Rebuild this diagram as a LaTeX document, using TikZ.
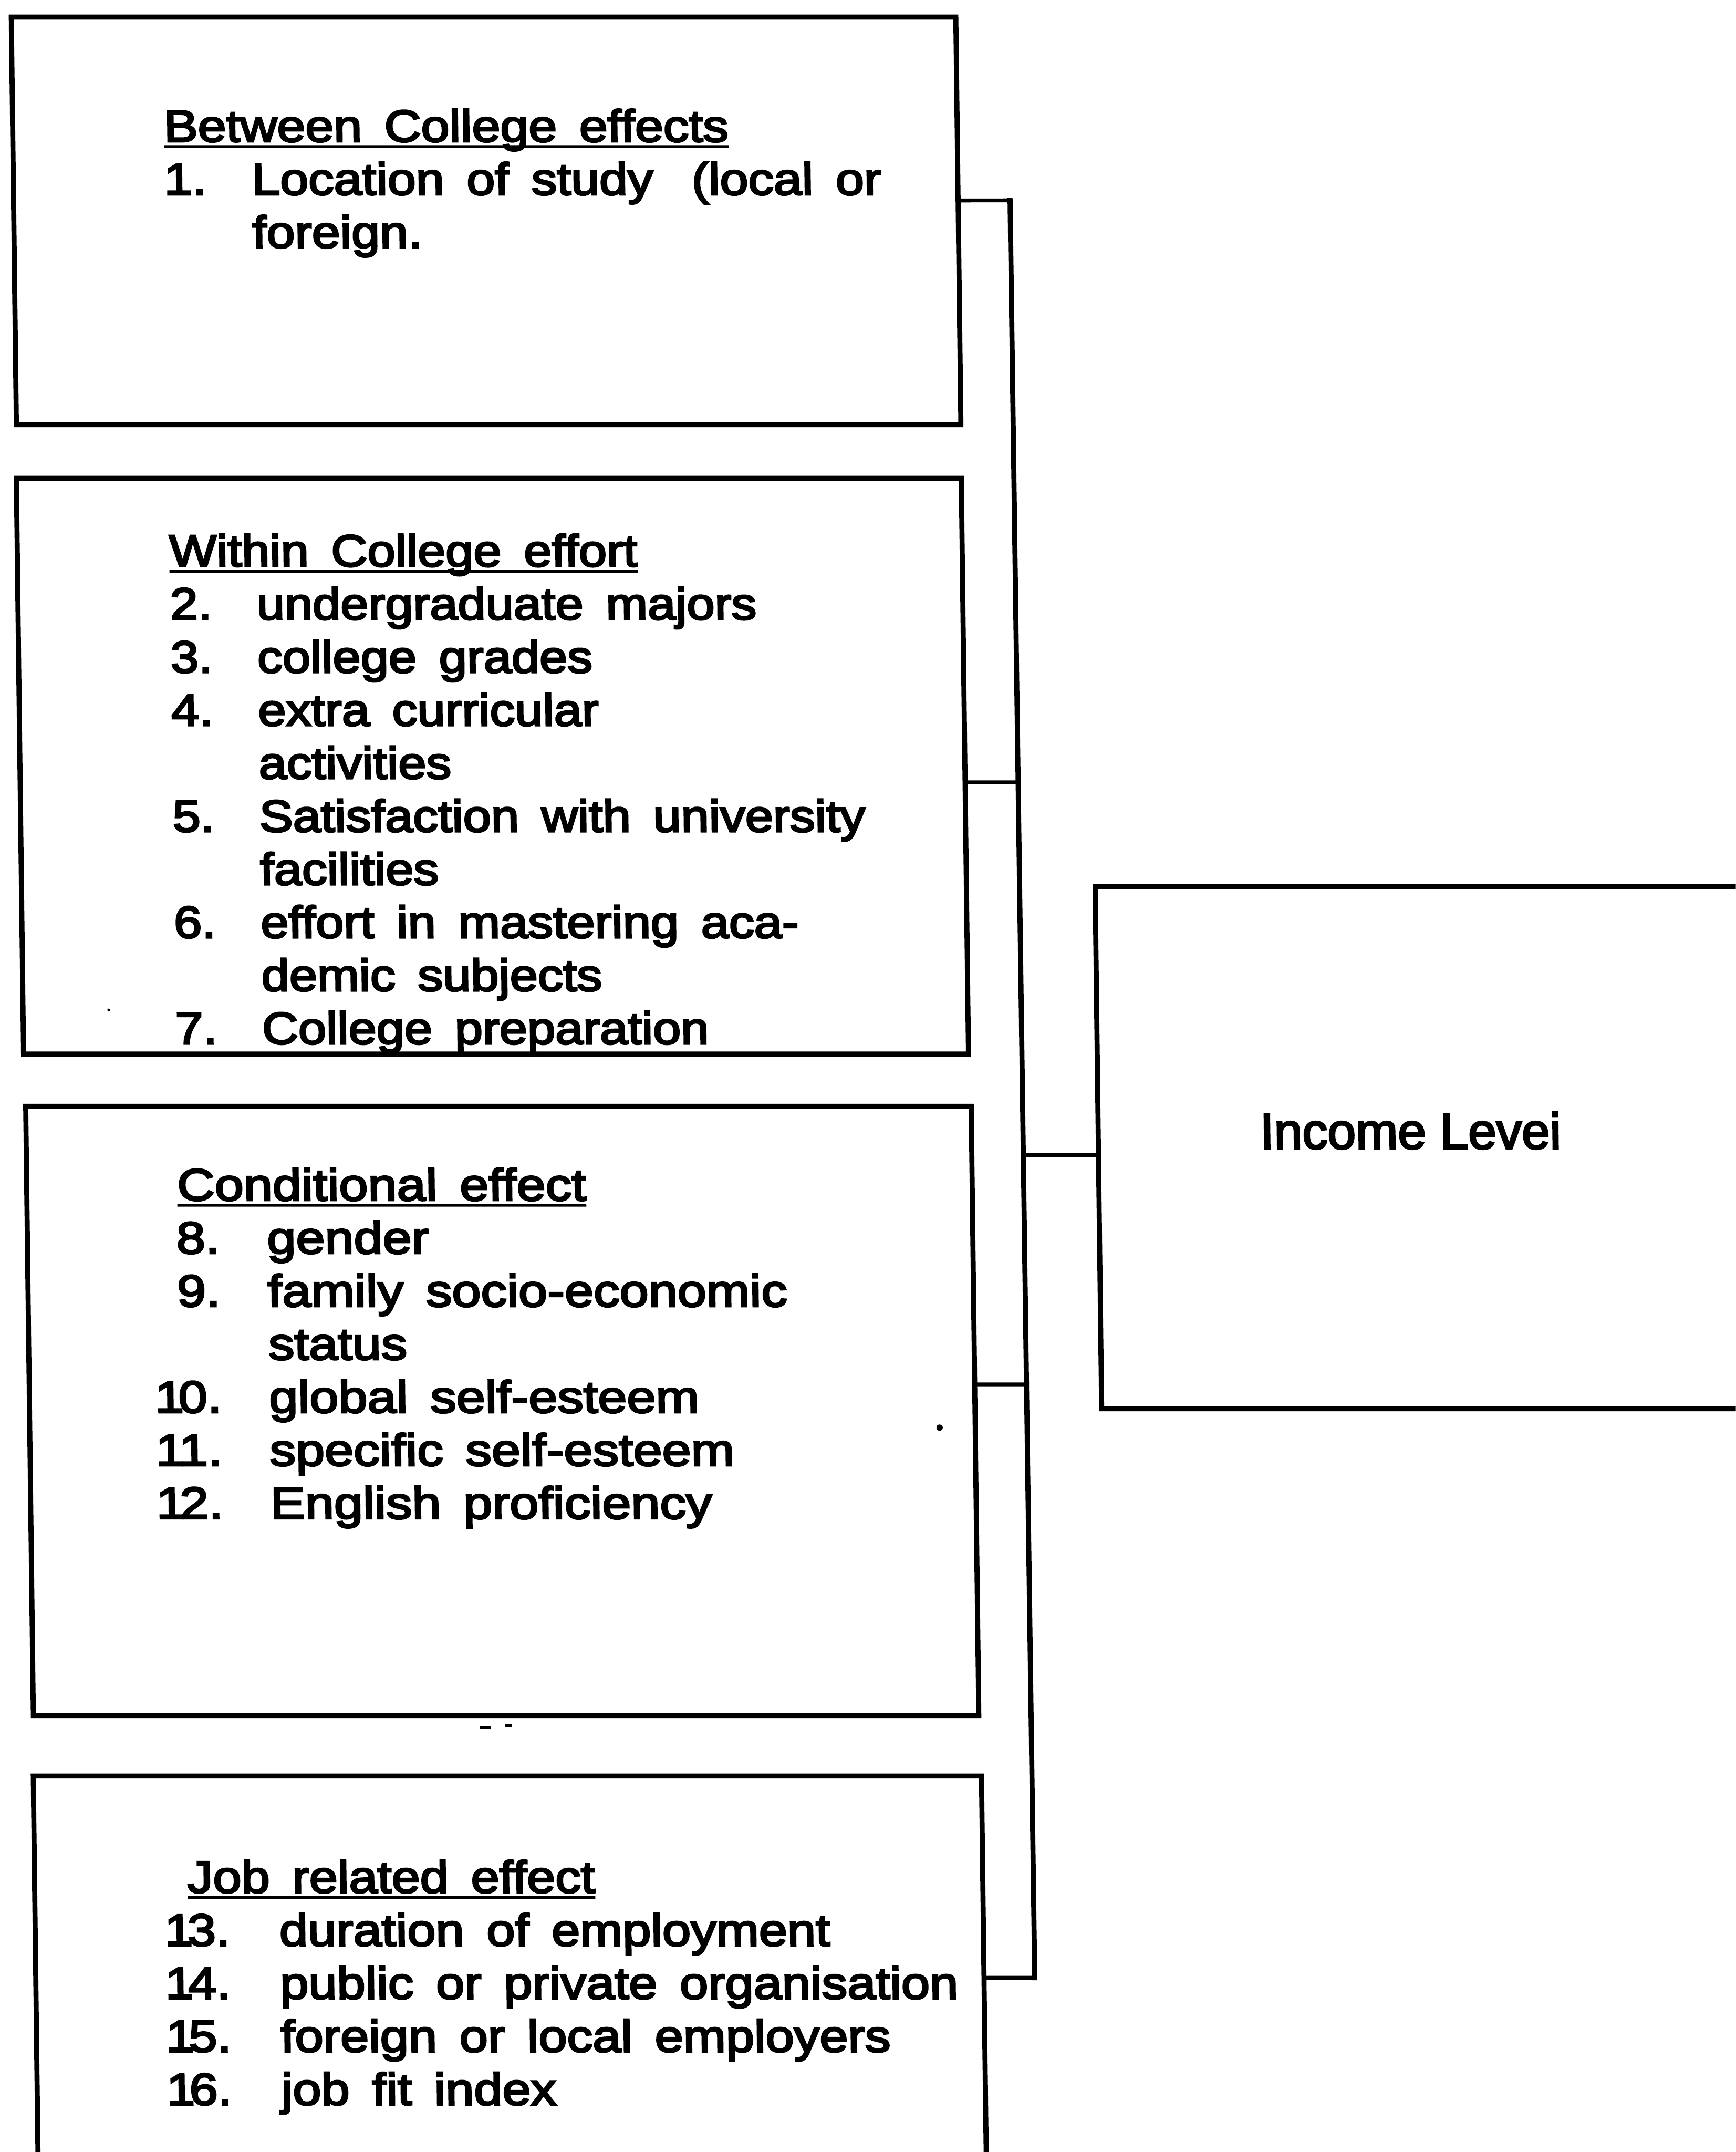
\documentclass[tikz,border=0pt]{standalone}
\usepackage{fontspec}
\setmainfont{Liberation Sans}
\newfontfamily\listfontA[FakeStretch=1.135,FakeBold=4]{Liberation Sans}
\newfontfamily\listfontB[FakeStretch=1.12,FakeBold=4]{Liberation Sans}
\newfontfamily\listfontC[FakeStretch=1.16,FakeBold=4]{Liberation Sans}
\newfontfamily\listfontD[FakeStretch=1.14,FakeBold=4]{Liberation Sans}
\newfontfamily\outfont[FakeBold=3.5]{Liberation Sans}
\usetikzlibrary{calc}

% list typography
\newcommand\listsize{\fontsize{18.6}{22}\selectfont\spaceskip=9.3pt\relax}
\newlength\numw \setlength\numw{0.612cm}
\newlength\gapw \setlength\gapw{0.67cm}
\newcommand\hdr[1]{\setbox0\hbox{#1}\rlap{\rule[-2.6pt]{\wd0}{1.1pt}}\box0}
\newcommand\itm[2]{\makebox[\numw][r]{#1}\hspace{\gapw}#2}
\newcommand\cnt[1]{\hspace{\numw}\hspace{\gapw}#1}
% two-digit numbers: the leading 1 sits close to its neighbour
\newcommand\tnum[1]{1\kern-2.3pt#1.}

\tikzset{
  effbox/.style={draw, line width=2.1pt, rectangle, inner sep=0pt, outer sep=0pt, anchor=center},
  busline/.style={line width=2.1pt, line cap=rect},
  tickline/.style={line width=1.6pt},
  listtext/.style={anchor=base west, inner sep=0pt, outer sep=0pt},
  outtext/.style={anchor=base west, inner sep=0pt, outer sep=0pt, font=\outfont\fontsize{21}{24}\selectfont},
}

\begin{document}
\begin{tikzpicture}[x=0.02cm, y=-0.02cm]
\useasboundingbox (0,0) rectangle (1265,1568);
\clip (0,0) rectangle (1265,1568);

\begin{scope}[xslant=-0.0125, transform shape]
  % factor boxes
  \node[effbox, minimum width=13.77cm, minimum height=5.942cm] (b1) at (352.25,160.95) {};
  \node[effbox, minimum width=13.776cm, minimum height=8.39cm] (b2) at (351.9,558.25) {};
  \node[effbox, minimum width=13.784cm, minimum height=8.88cm] (b3) at (353.2,1028) {};
  \node[effbox, minimum width=13.824cm, minimum height=6.12cm] (b4) at (353.6,1447) {};
  % outcome box
  \node[effbox, minimum width=10.2cm, minimum height=7.608cm] (inc) at (1045,836.3) {};

  % box contents
  \node[listtext, font=\listfontA\listsize] (t1) at (118.3,103.2) {\setlength\gapw{0.66cm}%
    \begin{tabular}[t]{@{}l@{}}
      \hdr{Between College effects}\\
      \itm{1.}{Location of study\hspace{16pt}(local or}\\
      \cnt{foreign.}
    \end{tabular}};
  \node[listtext, font=\listfontB\listsize] (t2) at (118.3,412.7) {\setlength\gapw{0.655cm}%
    \begin{tabular}[t]{@{}l@{}}
      \hdr{Within College effort}\\
      \itm{2.}{undergraduate majors}\\
      \itm{3.}{college grades}\\
      \itm{4.}{extra curricular}\\
      \cnt{activities}\\
      \itm{5.}{Satisfaction with university}\\
      \cnt{facilities}\\
      \itm{6.}{effort in mastering aca-}\\
      \cnt{demic subjects}\\
      \itm{7.}{College preparation}
    \end{tabular}};
  \node[listtext, font=\listfontC\listsize] (t3) at (118.3,874.6) {\setlength\gapw{0.69cm}%
    \begin{tabular}[t]{@{}l@{}}
      \hdr{Conditional effect}\\
      \itm{8.}{gender}\\
      \itm{9.}{family socio-economic}\\
      \cnt{status}\\
      \itm{\tnum{0}}{global self-esteem}\\
      \itm{\tnum{1}}{specific self-esteem}\\
      \itm{\tnum{2}}{English proficiency}
    \end{tabular}};
  \node[listtext, font=\listfontD\listsize] (t4) at (119.5,1379) {\setlength\gapw{0.72cm}%
    \begin{tabular}[t]{@{}l@{}}
      \hdr{Job related effect}\\
      \itm{\tnum{3}}{duration of employment}\\
      \itm{\tnum{4}}{public or private organisation}\\
      \itm{\tnum{5}}{foreign or local employers}\\
      \itm{\tnum{6}}{job fit index}
    \end{tabular}};
  \node[outtext] (tinc) at (908,837) {Income Levei};

  % collecting bus
  \coordinate (j1) at (734.3,146);
  \coordinate (j2) at (734.9,570);
  \coordinate (jI) at (735.3,841.6);
  \coordinate (j3) at (735.6,1008.7);
  \coordinate (j4) at (736.1,1441);
  \draw[busline] (j1) -- (j4);
  \draw[tickline] ($(b1.north east)!0.45!(b1.south east)$) -- (j1);
  \draw[tickline] ($(b2.north east)!0.528!(b2.south east)$) -- (j2);
  \draw[tickline] ($(b3.north east)!0.4565!(b3.south east)$) -- (j3);
  \draw[tickline] ($(b4.north east)!0.4804!(b4.south east)$) -- (j4);
  \draw[tickline] (jI) -- ($(inc.north west)!0.514!(inc.south west)$);

  % small specks on the sheet
  \fill (671.8,1040.2) circle[radius=2.3];
  \fill (70.1,735.9) circle[radius=1.1];
  \draw[line width=1.3pt] (334.3,1258.5) -- (342.3,1258.5);
  \draw[line width=1.3pt] (352.3,1257.5) -- (357.3,1257.5);
\end{scope}
\end{tikzpicture}
\end{document}
